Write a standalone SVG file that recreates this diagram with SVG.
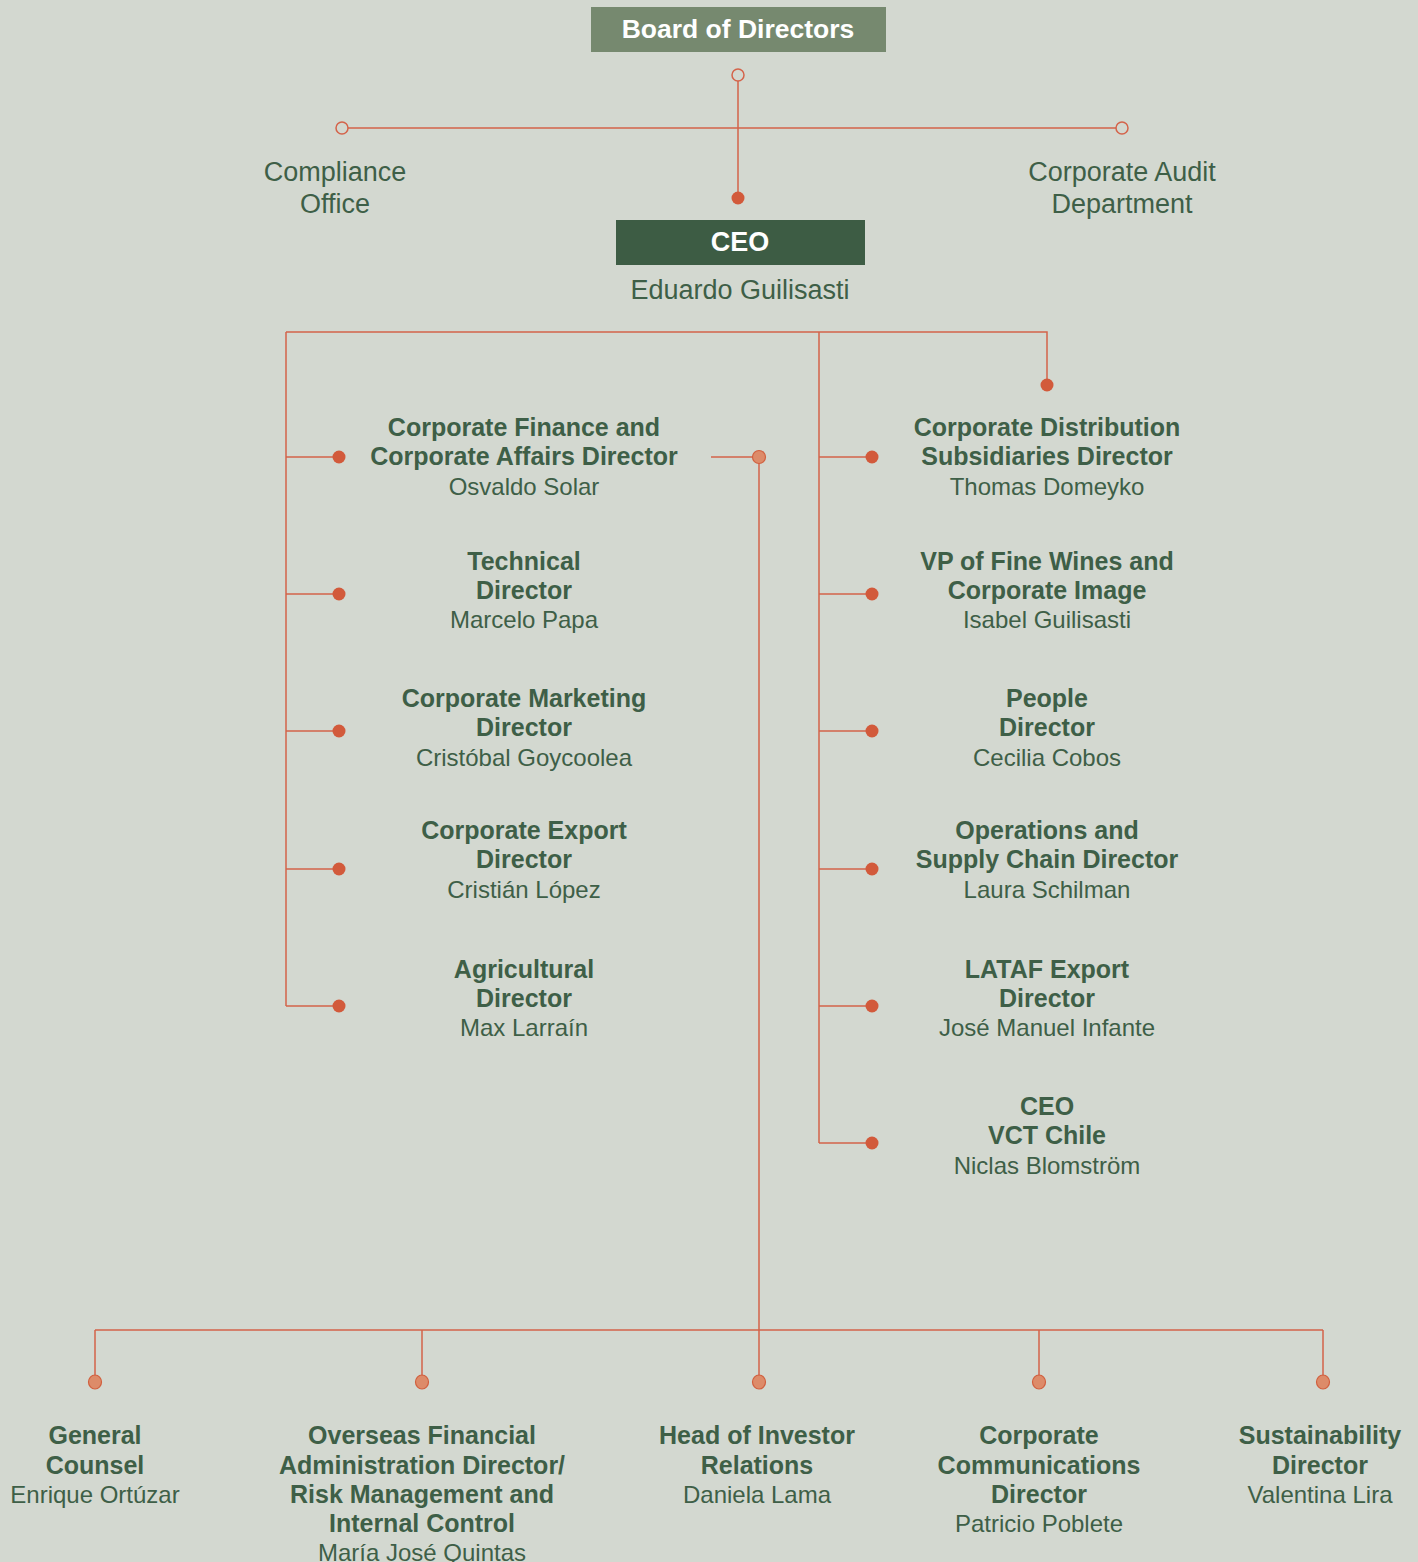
<svg xmlns="http://www.w3.org/2000/svg" width="1418" height="1562" viewBox="0 0 1418 1562">
<style>
.t{font-family:"Liberation Sans",Arial,sans-serif;fill:#3e5f47;text-anchor:middle;font-size:24px}
.b{font-weight:bold;font-size:25px}
.w{fill:#ffffff;font-weight:bold;font-size:26.5px}
.ln{stroke:#d4634a;stroke-width:1.5;fill:none}
.dot{fill:#d25a3b}
.lt{fill:#dd8b69;stroke:#d1603f;stroke-width:1.2}
.op{fill:none;stroke:#d4634a;stroke-width:1.5}
</style>
<rect width="1418" height="1562" fill="#d3d8d0"/>
<g id="connectors">
<path class="ln" d="M738 81V192M348 128H1116"/>
<path class="ln" d="M286 332H1047V379M286 332V1006M819 332V1143"/>
<path class="ln" d="M286 457H333M286 594H333M286 731H333M286 869H333M286 1006H333"/>
<path class="ln" d="M819 457H866M819 594H866M819 731H866M819 869H866M819 1006H866M819 1143H866"/>
<path class="ln" d="M711 457H753M759 463V1376"/>
<path class="ln" d="M95 1330H1323M95 1330V1376M422 1330V1376M1039 1330V1376M1323 1330V1376"/>
<circle class="op" cx="738" cy="75" r="6"/>
<circle class="op" cx="342" cy="128" r="6"/>
<circle class="op" cx="1122" cy="128" r="6"/>
<circle class="dot" cx="738" cy="198" r="6.5"/>
<circle class="dot" cx="1047" cy="385" r="6.5"/>
<circle class="dot" cx="339" cy="457" r="6.5"/>
<circle class="dot" cx="339" cy="594" r="6.5"/>
<circle class="dot" cx="339" cy="731" r="6.5"/>
<circle class="dot" cx="339" cy="869" r="6.5"/>
<circle class="dot" cx="339" cy="1006" r="6.5"/>
<circle class="dot" cx="872" cy="457" r="6.5"/>
<circle class="dot" cx="872" cy="594" r="6.5"/>
<circle class="dot" cx="872" cy="731" r="6.5"/>
<circle class="dot" cx="872" cy="869" r="6.5"/>
<circle class="dot" cx="872" cy="1006" r="6.5"/>
<circle class="dot" cx="872" cy="1143" r="6.5"/>
<circle class="lt" cx="759" cy="457" r="6.5"/>
<ellipse class="lt" cx="95" cy="1382" rx="6.5" ry="7"/>
<ellipse class="lt" cx="422" cy="1382" rx="6.5" ry="7"/>
<ellipse class="lt" cx="759" cy="1382" rx="6.5" ry="7"/>
<ellipse class="lt" cx="1039" cy="1382" rx="6.5" ry="7"/>
<ellipse class="lt" cx="1323" cy="1382" rx="6.5" ry="7"/>
</g>
<g id="board">
<rect x="591" y="7" width="295" height="45" fill="#76896f"/>
<text class="t w" x="738" y="38">Board of Directors</text>
</g>
<g id="compliance">
<text class="t" style="font-size:27px" x="335" y="181">Compliance</text>
<text class="t" style="font-size:27px" x="335" y="213">Office</text>
</g>
<g id="audit">
<text class="t" style="font-size:27px" x="1122" y="181">Corporate Audit</text>
<text class="t" style="font-size:27px" x="1122" y="213">Department</text>
</g>
<g id="ceo">
<rect x="616" y="220" width="249" height="45" fill="#3d5c44"/>
<text class="t w" style="font-size:27px" x="740" y="251">CEO</text>
<text class="t" style="font-size:27px" x="740" y="299">Eduardo Guilisasti</text>
</g>
<g id="finance">
<text class="t b" x="524" y="436">Corporate Finance and</text>
<text class="t b" x="524" y="465">Corporate Affairs Director</text>
<text class="t" x="524" y="495">Osvaldo Solar</text>
</g>
<g id="technical">
<text class="t b" x="524" y="570">Technical</text>
<text class="t b" x="524" y="599">Director</text>
<text class="t" x="524" y="628">Marcelo Papa</text>
</g>
<g id="marketing">
<text class="t b" x="524" y="707">Corporate Marketing</text>
<text class="t b" x="524" y="736">Director</text>
<text class="t" x="524" y="766">Cristóbal Goycoolea</text>
</g>
<g id="export">
<text class="t b" x="524" y="839">Corporate Export</text>
<text class="t b" x="524" y="868">Director</text>
<text class="t" x="524" y="898">Cristián López</text>
</g>
<g id="agricultural">
<text class="t b" x="524" y="978">Agricultural</text>
<text class="t b" x="524" y="1007">Director</text>
<text class="t" x="524" y="1036">Max Larraín</text>
</g>
<g id="distribution">
<text class="t b" x="1047" y="436">Corporate Distribution</text>
<text class="t b" x="1047" y="465">Subsidiaries Director</text>
<text class="t" x="1047" y="495">Thomas Domeyko</text>
</g>
<g id="finewines">
<text class="t b" x="1047" y="570">VP of Fine Wines and</text>
<text class="t b" x="1047" y="599">Corporate Image</text>
<text class="t" x="1047" y="628">Isabel Guilisasti</text>
</g>
<g id="people">
<text class="t b" x="1047" y="707">People</text>
<text class="t b" x="1047" y="736">Director</text>
<text class="t" x="1047" y="766">Cecilia Cobos</text>
</g>
<g id="operations">
<text class="t b" x="1047" y="839">Operations and</text>
<text class="t b" x="1047" y="868">Supply Chain Director</text>
<text class="t" x="1047" y="898">Laura Schilman</text>
</g>
<g id="lataf">
<text class="t b" x="1047" y="978">LATAF Export</text>
<text class="t b" x="1047" y="1007">Director</text>
<text class="t" x="1047" y="1036">José Manuel Infante</text>
</g>
<g id="vctchile">
<text class="t b" x="1047" y="1115">CEO</text>
<text class="t b" x="1047" y="1144">VCT Chile</text>
<text class="t" x="1047" y="1174">Niclas Blomström</text>
</g>
<g id="counsel">
<text class="t b" x="95" y="1444">General</text>
<text class="t b" x="95" y="1474">Counsel</text>
<text class="t" x="95" y="1503">Enrique Ortúzar</text>
</g>
<g id="overseas">
<text class="t b" x="422" y="1444">Overseas Financial</text>
<text class="t b" x="422" y="1474">Administration Director/</text>
<text class="t b" x="422" y="1503">Risk Management and</text>
<text class="t b" x="422" y="1532">Internal Control</text>
<text class="t" x="422" y="1561">María José Quintas</text>
</g>
<g id="investor">
<text class="t b" x="757" y="1444">Head of Investor</text>
<text class="t b" x="757" y="1474">Relations</text>
<text class="t" x="757" y="1503">Daniela Lama</text>
</g>
<g id="communications">
<text class="t b" x="1039" y="1444">Corporate</text>
<text class="t b" x="1039" y="1474">Communications</text>
<text class="t b" x="1039" y="1503">Director</text>
<text class="t" x="1039" y="1532">Patricio Poblete</text>
</g>
<g id="sustainability">
<text class="t b" x="1320" y="1444">Sustainability</text>
<text class="t b" x="1320" y="1474">Director</text>
<text class="t" x="1320" y="1503">Valentina Lira</text>
</g>
</svg>
